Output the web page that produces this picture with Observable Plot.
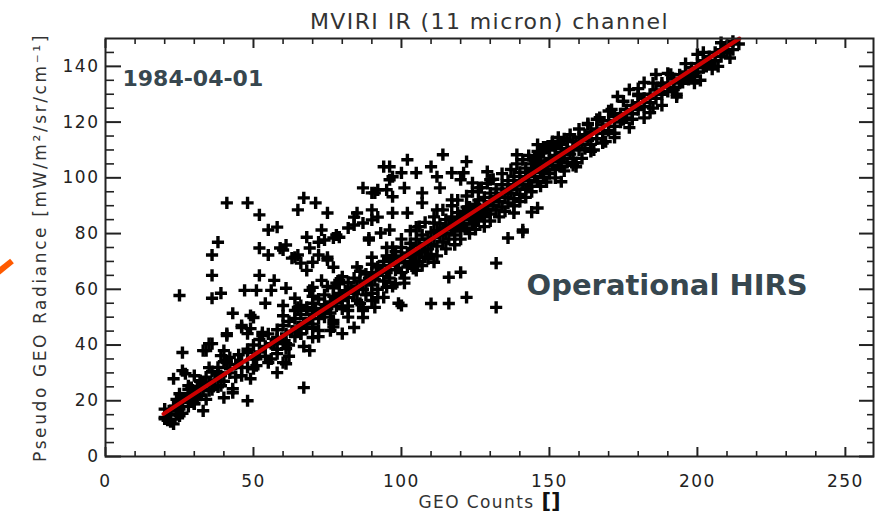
<!DOCTYPE html>
<html><head><meta charset="utf-8">
<script src="https://cdn.jsdelivr.net/npm/d3@7"></script>
<script src="https://cdn.jsdelivr.net/npm/@observablehq/plot@0.6"></script>
<style>
body{margin:0;background:#fff;}
#wrap{position:relative;width:884px;height:522px;overflow:hidden;}
</style></head><body><div id="wrap"></div>
<script>
// ---- data ----
const titleText = "MVIRI IR (11 micron) channel";
const xLabelText = "GEO Counts";
const xLabelUnit = "[]";
const yLabelText = "Pseudo GEO Radiance [mW/m\u00B2/sr/cm\u207B\u00B9]";
const dateText = "1984-04-01";
const sourceText = "Operational HIRS";

const xMajorTicks = [0, 50, 100, 150, 200, 250];
const xMinorTicks = [10, 20, 30, 40, 60, 70, 80, 90, 110, 120, 130, 140, 160, 170, 180, 190, 210, 220, 230, 240];
const yMajorTicks = [0, 20, 40, 60, 80, 100, 120, 140];
const yMinorTicks = [5, 10, 15, 25, 30, 35, 45, 50, 55, 65, 70, 75, 85, 90, 95, 105, 110, 115, 125, 130, 135, 145];

// regression line end points [GEO counts, radiance]
const fitCounts = [19.6, 214.2];
const fitRadiance = [15.3, 150];

// scattered points [GEO counts, pseudo GEO radiance]
const scatterPoints = [
[43,51.4],[49,50.6],[54,55.0],[60,54.2],[64,52.4],[68,53.5],[73,52.4],[77,47.7],[80,44.1],[46,47.0],[49,45.9],[53,44.5],[58,42.7],[41,44.1],[35,40.5],[33,38.0],[26,37.3],[39,36.2],[41,33.7],[48,37.3],[51,35.1],[61,33.3],[58,30.1],[69,38.0],[72,45.2],[67,24.7],[23,27.9],[26,30.8],[30,29.0],[29,24.7],[33,26.5],[38,30.1],[42,31.5],[46,29.0],[49,27.9],[43,24.3],[40,21.1],[43,22.9],[48,20.0],[33,16.4],[30,18.9],[26,20.0],[24,17.5],[22,15.3],[20,13.5],[23,11.7],[25,14.6],[28,22.5],[31,21.1],
[41,91.0],[48,91.0],[52,86.7],[67,92.8],[65,88.5],[71,91.0],[75,87.4],[38,76.9],[36,72.3],[36,65.0],[25,57.8],[36,56.8],[39,58.6],[52,74.8],[55,72.3],[59,74.8],[55,81.3],[58,82.3],[52,65.0],[47,59.6],[51,59.6],[57,63.2],[56,59.6],[61,60.4],[64,56.8],[66,54.2],[69,59.6],[50,49.9],[46,46.3],[48,44.1],[41,43.4],[53,43.4],[36,40.5],[34,38.0],[40,38.0],[41,34.4],[46,31.9],[51,32.6],[55,33.7],[60,33.7],[61,38.7],[57,40.5],[27,29.7],[28,25.4],[32,27.2],[25,22.5],[35,23.6],[39,25.4],[38,29.7],[35,31.9],
[60,74.1],[64,71.5],[66,69.4],[70,69.7],[75,71.5],[77,67.9],[72,76.9],[68,78.7],[79,78.7],[84,85.9],[87,96.4],[91,94.6],[95,95.7],[97,93.2],[92,85.9],[89,78.4],[96,81.3],[97,75.1],[84,83.1],[82,82.0],[77,78.4],[73,81.3],[65,72.3],[68,66.8],[73,63.2],[70,60.7],[78,62.2],[84,59.6],[79,56.8],[86,55.0],[82,52.4],[90,58.6],[95,60.7],[77,48.8],[73,51.4],[70,46.3],[67,47.7],[76,45.2],[84,46.3],[87,49.9],[91,53.5],[94,57.1],[70,42.7],[66,44.1],[61,40.5],[58,36.9],[79,63.2],[93,66.8],[96,70.5],[99,55.0],
[89,77.7],[90,84.9],[78,79.5],[74,77.7],[61,75.9],[63,71.2],[72,72.3],[75,70.5],[69,74.8],
[114,108.3],[102,106.5],[96,104.0],[122,105.8],[129,102.2],[139,108.3],[146,111.9],[92,95.7],[97,100.4],[105,101.8],[110,104.0],[117,101.8],[101,96.4],[107,94.6],[113,96.4],[120,99.3],[124,98.2],[87,83.8],[85,87.4],[102,87.4],[107,91.0],[112,88.5],[117,92.1],[122,89.5],[132,69.4],[122,57.1],[116,54.9],[110,54.9],[100,54.2],[132,53.5],[120,66.1],[116,64.3],[111,69.7],[105,66.8],[101,62.2],[90,56.0],[87,52.4],[141,81.3],[144,87.7],[138,87.4],[136,78.4],
[184,123.4],[169,113.0],[163,119.1],[159,104.0],[154,98.6],[146,89.2],[173,129.2],[177,131.7],[182,134.2],[186,137.1],[191,137.1],[195,134.2],[199,137.8],[203,141.4],[159,105.4],[141,80.5],[171,124.5],[175,120.9],[167,121.6],[200,144.3],[192,131.7],[197,135.3],[203,140.0],[209,145.0],
[94,104.0],[100,101.8],[96,99.3],[90,94.6],[112,100.4],[121,101.8],[126,96.4],[130,99.3],[132,93.2],[136,95.7],[126,88.5],[111,83.8],[117,81.3],[105,82.3],[97,87.4],[90,88.5],[93,80.2],
[145,106],[147,109],[149,111],[151,113],[153,112],[155,114],[148,104],[152,108],[156,110],[150,107],[144,103],[158,113],
[165,110],[172,116],[178,121],[185,125],[193,129],[201,135],[207,140],[180,130],[188,134],
[60,50.5],[62,36.0],[65,53.5],[67,39.5],[70,57.5],[72,43.0],[75,61.0],[77,46.5],[80,64.5],[82,50.0],[85,68.0],[87,53.5],[90,71.5],[92,57.0],[95,75.0],[97,61.0],[100,78.0],[101,64.0],[103,81.0],[104,67.5],[106,82.5],[107,68.5],[108,84.0],[109,71.0],[111,86.0],[112,72.0],[114,88.5],[115,74.5],[117,90.0],[118,76.0],[119,92.0],[120,78.0],[122,93.5],[123,80.0],[124,95.0],[125,81.5],[127,96.5],[128,82.5],[129,98.0],[130,84.5],[131,99.5],[133,86.0],[134,101.5],[135,88.0],[137,103.0],[138,90.0],[139,105.0],[140,91.5],[141,106.5],[142,93.0],[143,108.0],[144,95.0],[146,109.5],[147,97.0],[148,111.0],[149,98.5],[151,112.5],[152,100.0],[153,114.5],[155,102.5],[157,115.5],[158,104.5],[160,117.5],[161,107.0],[163,119.5],[164,109.5],[166,121.0],[168,112.5],[170,124.0],[172,114.5],[175,127.5],[177,118.0],[180,132.0],[182,121.5],[185,134.0],[188,126.0],[190,137.5],[193,130.0],[196,141.0],[199,134.0],[202,145.0],[205,139.0],[208,148.5],[211,143.0],
[20,14.0],[20,17.0],[21,13.0],[22,16.5],[22,12.5],[23,18.0],[24,15.0],[24,20.5],[25,17.0],[26,19.5],[26,15.5],[27,21.0],[28,18.0],[28,24.0],[29,20.0],[30,23.5],[30,19.0],[31,25.0],[32,22.0],[32,27.0],[33,24.0],[34,20.5],[34,28.5],[35,26.0],[36,24.0],[36,30.5],[37,27.5],[38,32.0],[38,25.0],[39,29.0],[40,27.0],[40,34.0],[42,30.0],[42,35.5],[44,28.5],[44,33.0],[45,36.5],[46,34.0],[48,32.0],[48,38.5],[50,35.0],[50,40.0],[50,31.5],[52,37.5],[52,42.0],[54,36.0],[54,39.5],[55,44.0],[56,40.5],[56,35.0],[58,42.0],[58,45.5],[58,38.5],[60,41.5],[60,47.0],[61,44.0],[62,48.5],[62,40.0],[63,45.0],[64,43.0],[64,49.5],[65,46.5],[66,51.0],[66,44.0],[67,48.0],[68,46.0],[68,52.5],[69,49.5],[70,51.0],[70,47.5],[70,55.0],[71,53.0],[72,49.5],[72,56.5],[73,52.0],[74,54.5],[74,50.0],[74,58.0],[75,53.0],[76,55.5],[76,51.5],[77,57.5],[77,60.5],[78,54.0],[79,58.5],[79,62.0],[80,56.0],[80,53.0],[81,59.5],[82,57.0],[82,62.5],[82,54.0],[83,60.5],[84,58.5],[84,64.0],[85,61.0],[85,56.0],[86,63.0],[86,66.5],[87,60.0],[88,62.5],[88,65.5],[88,58.0],[89,64.0],[90,66.0],[90,61.5],[90,69.0],[91,63.5],[92,65.0],[92,68.0],[92,60.0],[93,67.0],[94,63.0],[94,70.0],[95,66.0],[95,72.0],[96,68.5],[96,64.0],[97,71.0],[98,67.0],[98,73.5],[98,62.0],[99,69.5],[100,72.0],[100,66.0],[100,75.0],[101,70.0],[102,73.0],[102,68.0],[103,71.5],[103,76.5],[104,74.0],[104,69.0],[105,72.5],[105,78.0],[106,75.5],[106,70.0],[107,73.5],[107,79.5],[108,76.5],[108,71.5],[109,78.0],[109,74.5],[110,80.5],[110,76.0],[110,72.5],[111,78.5],[112,81.0],[112,75.5],[113,79.5],[113,83.5],[114,77.0],[114,82.0],[115,80.0],[115,85.0],[116,83.0],[116,78.0],[117,81.5],[117,86.0],[118,84.0],[118,79.5],[119,82.5],[119,87.5],[120,85.0],[120,81.0],[121,83.5],[121,88.0],[122,86.5],[122,82.0],[123,85.0],[123,89.5],[124,87.5],[124,83.5],[125,86.0],[125,90.5],[126,88.5],[126,84.5],[126,92.0],[127,87.0],[128,90.0],[128,86.0],[128,93.0],[129,88.5],[130,91.5],[130,87.0],[130,94.5],[131,90.0],[132,93.0],[132,88.5],[132,96.0],[133,91.5],[134,94.5],[134,89.5],[134,97.5],[135,93.0],[136,96.0],[136,91.0],[136,99.0],[137,94.5],[138,97.5],[138,92.5],[138,100.5],[139,96.0],[140,99.0],[140,94.0],[140,102.0],[141,97.5],[142,100.5],[142,96.0],[142,103.5],[143,99.0],[144,102.0],[144,97.0],[144,105.0],[145,100.5],[145,107.0],[146,103.5],[146,98.5],[147,102.0],[147,106.0],[148,104.5],[148,100.0],[148,109.0],[149,103.0],[150,106.0],[150,101.5],[150,110.0],[151,104.5],[152,107.5],[152,103.0],[152,111.5],[153,106.0],[154,109.0],[154,104.0],[154,112.0],[155,107.0],[156,110.5],[156,105.5],[156,113.5],[157,108.5],[158,111.0],[158,107.0],[159,113.0],[160,110.0],[160,114.5],[161,112.0],[162,115.5],[162,110.5],[163,113.5],[164,116.5],[164,112.0],[166,117.5],[166,114.0],[168,119.0],[168,116.0],[170,120.5],[170,117.0],[172,122.0],[172,118.5],[174,123.0],[174,120.0],[176,124.5],[176,121.5],[178,126.0],[178,123.0],[180,127.0],[180,124.5],[180,129.5],[182,128.5],[182,125.5],[184,130.0],[184,127.0],[186,131.5],[186,128.5],[188,133.0],[188,130.0],[190,134.0],[190,131.0],[192,135.5],[192,132.5],[194,137.0],[194,134.0],[196,138.0],[196,135.5],[198,139.5],[198,136.5],[200,141.0],[200,138.0],[202,142.0],[202,139.5],[204,143.5],[204,141.0],[206,145.0],[206,142.0],[208,146.0],[208,143.5],[210,147.5],[210,145.0],[212,149.0],[212,146.0],[214,148.0]
];

// ---- chart ----
const axisFont = "DejaVu Sans";
const ink = "#222";
const fitRows = fitCounts.map((c, i) => ({counts: c, radiance: fitRadiance[i]}));

const chart = Plot.plot({
  width: 884, height: 522,
  marginLeft: 105, marginRight: 11, marginTop: 38, marginBottom: 66,
  x: {domain: [0, 259.5]},
  y: {domain: [0, 150]},
  style: {fontFamily: axisFont, fontSize: "17px", color: ink, background: "white", overflow: "visible"},
  marks: [
    Plot.dot(scatterPoints, {x: d => d[0], y: d => d[1], symbol: "plus", r: 4, stroke: "black", fill: "none", strokeWidth: 3.4}),
    Plot.line(fitRows, {x: "counts", y: "radiance", stroke: "#cc0000", strokeWidth: 4}),
    Plot.frame({stroke: ink, strokeWidth: 2}),
    Plot.axisX(xMajorTicks, {anchor: "bottom", tickSize: -9, tickPadding: 27, strokeWidth: 2, label: null}),
    Plot.axisX(xMinorTicks, {anchor: "bottom", tickSize: -5, strokeWidth: 1.6, fill: "none", label: null}),
    Plot.axisX(xMajorTicks, {anchor: "top", tickSize: -9, strokeWidth: 2, fill: "none", label: null}),
    Plot.axisX(xMinorTicks, {anchor: "top", tickSize: -5, strokeWidth: 1.6, fill: "none", label: null}),
    Plot.axisY(yMajorTicks, {anchor: "left", tickSize: -16, tickPadding: 22, strokeWidth: 2, label: null}),
    Plot.axisY(yMinorTicks, {anchor: "left", tickSize: -9, strokeWidth: 1.6, fill: "none", label: null}),
    Plot.axisY(yMajorTicks, {anchor: "right", tickSize: -15, strokeWidth: 2, fill: "none", label: null}),
    Plot.axisY(yMinorTicks, {anchor: "right", tickSize: -7, strokeWidth: 1.6, fill: "none", label: null}),
    Plot.text([titleText], {frameAnchor: "top", dy: -25, fontSize: 22, fill: "#333"}),
    Plot.text([yLabelText], {frameAnchor: "left", dx: -65, rotate: -90, textAnchor: "middle", fontSize: 17, fill: "#333"}),
    Plot.text([xLabelText], {frameAnchor: "bottom", dx: 45, dy: 51, textAnchor: "end", fontSize: 17, fill: "#333"}),
    Plot.text([xLabelUnit], {frameAnchor: "bottom", dx: 52, dy: 51, textAnchor: "start", fontSize: 21, fontWeight: "bold", fill: "#111"}),
    Plot.text([dateText], {frameAnchor: "top-left", dx: 17, dy: 32, textAnchor: "start", fontSize: 22, fontWeight: "bold", fill: "#37474f"}),
    Plot.text([sourceText], {frameAnchor: "top-left", dx: 421, dy: 236, textAnchor: "start", fontSize: 29, fontWeight: "bold", fill: "#37474f"})
  ]
});

const svg = d3.select(chart);
const spacing = {[titleText]: "1.4px", [yLabelText]: "2.6px", [xLabelText]: "1.4px"};
svg.selectAll("text").each(function () {
  const t = this.textContent;
  if (spacing[t]) d3.select(this).style("letter-spacing", spacing[t]);
});
svg.selectAll('g[aria-label="x-axis tick label"] text, g[aria-label="y-axis tick label"] text')
  .style("letter-spacing", "1.5px");

// orange arrow fragment at the left edge (decoration)
svg.append("line")
  .attr("x1", -3).attr("y1", 273).attr("x2", 12).attr("y2", 261)
  .attr("stroke", "#ff5a00").attr("stroke-width", 6);

document.getElementById("wrap").appendChild(chart);
</script>
</body></html>
